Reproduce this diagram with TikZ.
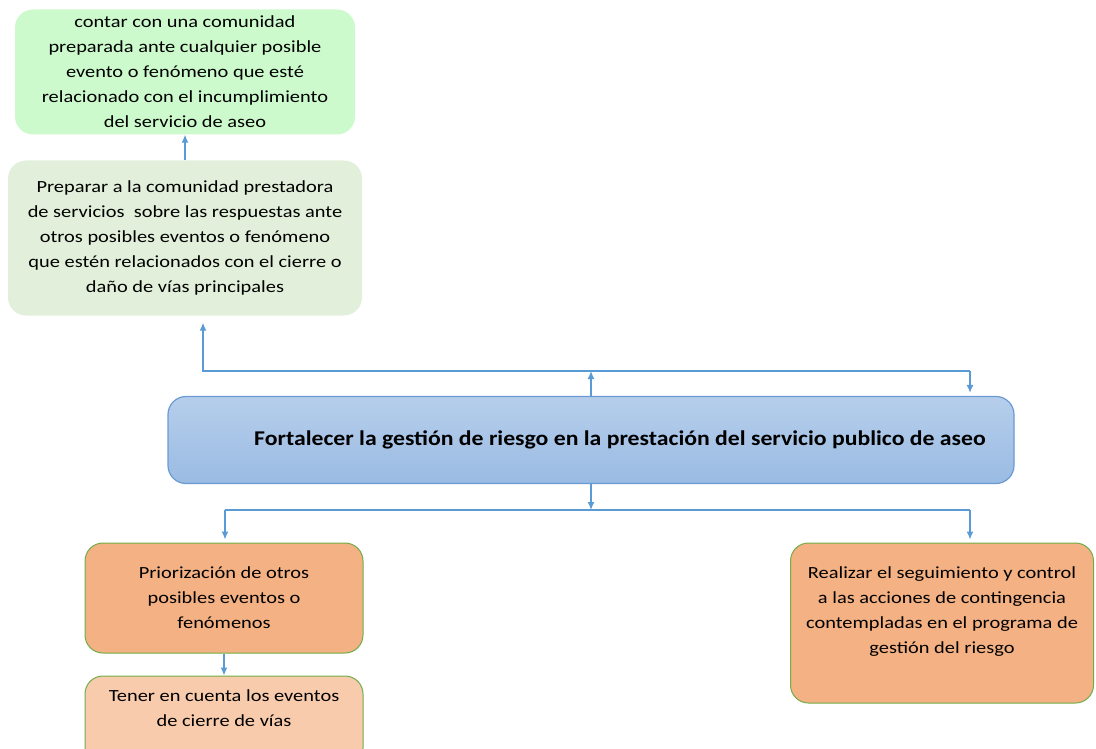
\documentclass[tikz,border=0pt]{standalone}
\usepackage{fontspec}
\setmainfont{Carlito}
\newfontfamily\cardfont[FakeStretch=1.2]{Carlito}
\newfontfamily\titlefont[FakeStretch=1.13]{Carlito}
\usepackage{xcolor}
\usetikzlibrary{arrows.meta}
\usetikzlibrary{positioning}
\definecolor{goal-green}{RGB}{204, 250, 204}
\definecolor{prep-green}{RGB}{226, 239, 218}
\definecolor{main-top}{RGB}{182, 206, 235}
\definecolor{main-bottom}{RGB}{154, 187, 227}
\definecolor{main-line}{RGB}{106, 155, 211}
\definecolor{task-orange}{RGB}{244, 177, 131}
\definecolor{task-light}{RGB}{248, 203, 173}
\definecolor{task-line}{RGB}{112, 173, 71}
\definecolor{link-blue}{RGB}{91, 155, 213}

\begin{document}
\begin{tikzpicture}[x=1pt, y=-1pt,
        card/.style={rounded corners=18pt, align=center, font=\cardfont\fontsize{17}{25}\selectfont, inner sep=0pt},
        task/.style={card, draw=task-line, line width=1pt},
        link/.style={draw=link-blue, line width=1.3pt, -{Latex[length=8pt, width=7pt]}}]
                \useasboundingbox (0, 0) rectangle (1096, 749);
                \clip (0, 0) rectangle (1096, 749);
                \node[card, fill=goal-green, minimum width=340pt, minimum height=125pt] (goal) at (185, 72) {contar con una comunidad\\ preparada ante cualquier posible\\ evento o fenómeno que esté\\ relacionado con el incumplimiento\\ del servicio de aseo};
                \node[card, fill=prep-green, minimum width=354pt, minimum height=155pt] (prep) at (185, 238) {Preparar a la comunidad prestadora\\ de servicios\ \ sobre las respuestas ante\\ otros posibles eventos o fenómeno\\ que estén relacionados con el cierre o\\ daño de vías principales};
                \node[card, top color=main-top, bottom color=main-bottom, draw=main-line, line width=1.2pt, minimum width=846pt, minimum height=87pt,
                    label={[xshift=29pt, font=\titlefont\fontsize{21}{24}\selectfont\bfseries]center:Fortalecer la gestión de riesgo en la prestación del servicio publico de aseo}] (main) at (591, 440) {};
                \node[task, fill=task-orange, minimum width=278pt, minimum height=110pt] (prior) at (224, 598) {Priorización de otros\\ posibles eventos o\\ fenómenos};
                \node[task, fill=task-light, minimum width=278pt, minimum height=90pt] (tener) at (224, 721) {Tener en cuenta los eventos\\ de cierre de vías\\ \mbox{}};
                \node[task, fill=task-orange, minimum width=303pt, minimum height=160pt] (real) at (942, 623) {Realizar el seguimiento y control\\ a las acciones de contingencia\\ contempladas en el programa de\\ gestión del riesgo\\ \mbox{}};
                \coordinate (upl) at (203, 371);
                \coordinate (upr) at (970, 371);
                \coordinate (dnl) at (225, 510);
                \coordinate (dnr) at (970, 510);
                \draw[link] (prep) -- (goal);
                \draw[link] (main.north) -- (main.north |- upl);
                \draw[link] (upr) -- (upl) -- ([yshift=-7pt]prep.south -| upl);
                \draw[link] (upr) -- ([yshift=3pt]main.north -| upr);
                \draw[link] (main.south) -- (main.south |- dnl);
                \draw[link, -] (dnl) -- (dnr);
                \draw[link] (dnl) -- ([yshift=3pt]prior.north -| dnl);
                \draw[link] (dnr) -- ([yshift=3pt]real.north -| dnr);
                \draw[link] (prior) -- (tener);
            \end{tikzpicture}
\end{document}
